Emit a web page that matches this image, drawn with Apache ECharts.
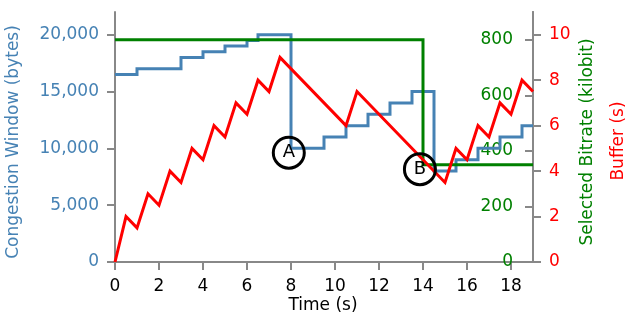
<!DOCTYPE html>
<html>
<head>
<meta charset="utf-8">
<script src="https://cdn.jsdelivr.net/npm/echarts@6/dist/echarts.min.js"></script>
<style>
html,body{margin:0;padding:0;background:#fff;}
#chart{width:629px;height:321px;}
</style>
</head>
<body>
<div id="chart"></div>
<script>
// Congestion window (bytes), step series: value holds from time until next time
var cwndTimes  = [0, 1, 3, 4, 5, 6, 6.5, 8, 9.5, 10.5, 11.5, 12.5, 13.5, 14.5, 15.5, 16.5, 17.5, 18.5, 19];
var cwndValues = [16500, 17000, 18000, 18500, 19000, 19500, 20000, 10000, 11000, 12000, 13000, 14000, 15000, 8000, 9000, 10000, 11000, 12000, 12000];

// Selected bitrate (kilobit), step series
var bitrateTimes  = [0, 14, 19];
var bitrateValues = [800, 350, 350];

// Buffer (s)
var bufferTimes  = [0, 0.5, 1, 1.5, 2, 2.5, 3, 3.5, 4, 4.5, 5, 5.5, 6, 6.5, 7, 7.5, 10.5, 11, 15, 15.5, 16, 16.5, 17, 17.5, 18, 18.5, 19];
var bufferValues = [0, 2, 1.5, 3, 2.5, 4, 3.5, 5, 4.5, 6, 5.5, 7, 6.5, 8, 7.5, 9, 6, 7.5, 3.5, 5, 4.5, 6, 5.5, 7, 6.5, 8, 7.5];

// Annotations (time s, congestion window bytes)
var annotationLabels = ['A', 'B'];
var annotationTimes  = [7.9, 13.86];
var annotationValues = [9620, 8170];

function pairs(xs, ys){ return xs.map(function(x,i){ return [x, ys[i]]; }); }

var FONT = 'DejaVu Sans';
var AXIS = '#888888';
var BLUE = '#4682b4', GREEN = '#008000', RED = '#ff0000';

var chart = echarts.init(document.getElementById('chart'), null, {renderer:'canvas'});
chart.setOption({
  animation: false,
  textStyle: {fontFamily: FONT},
  grid: {left: 115, right: 96, top: 12, bottom: 59, containLabel: false},
  xAxis: {
    type: 'value', min: 0, max: 19, interval: 2,
    splitLine: {show: false},
    axisLine: {show: true, onZero: false, lineStyle: {color: AXIS, width: 2}},
    axisTick: {show: true, length: 8, lineStyle: {color: AXIS, width: 2}},
    axisLabel: {color: '#000', fontSize: 17, fontFamily: FONT, margin: 16, showMaxLabel: false}
  },
  yAxis: [
    {
      type: 'value', position: 'left', min: 0, max: 22000, interval: 5000,
      splitLine: {show: false},
      axisLine: {show: true, lineStyle: {color: AXIS, width: 2}},
      axisTick: {show: true, length: 8, lineStyle: {color: AXIS, width: 2}},
      axisLabel: {color: BLUE, fontSize: 17, fontFamily: FONT, margin: 16, showMaxLabel: false,
        formatter: function(v){ return v.toLocaleString('en-US'); }}
    },
    {
      type: 'value', position: 'right', offset: 0, min: 0, max: 900, interval: 200,
      splitLine: {show: false},
      axisLine: {show: true, lineStyle: {color: AXIS, width: 2}},
      axisTick: {show: true, inside: true, length: 8, lineStyle: {color: AXIS, width: 2}},
      axisLabel: {color: GREEN, fontSize: 17, fontFamily: FONT, inside: true, margin: 20, showMaxLabel: false}
    },
    {
      type: 'value', position: 'right', offset: 0, min: 0, max: 11, interval: 2,
      splitLine: {show: false},
      axisLine: {show: true, lineStyle: {color: AXIS, width: 2}},
      axisTick: {show: true, length: 8, lineStyle: {color: AXIS, width: 2}},
      axisLabel: {color: RED, fontSize: 17, fontFamily: FONT, margin: 16, showMaxLabel: false}
    }
  ],
  series: [
    {
      type: 'line', name: 'cwnd', xAxisIndex: 0, yAxisIndex: 0, step: 'end', symbol: 'none',
      data: pairs(cwndTimes, cwndValues),
      lineStyle: {color: BLUE, width: 3, join: 'miter'}, z: 2
    },
    {
      type: 'line', name: 'bitrate', xAxisIndex: 0, yAxisIndex: 1, step: 'end', symbol: 'none',
      data: pairs(bitrateTimes, bitrateValues),
      lineStyle: {color: GREEN, width: 3, join: 'miter'}, z: 3
    },
    {
      type: 'line', name: 'buffer', xAxisIndex: 0, yAxisIndex: 2, symbol: 'none',
      data: pairs(bufferTimes, bufferValues),
      lineStyle: {color: RED, width: 3, join: 'miter'}, z: 4
    },
    {
      type: 'scatter', name: 'annotations', xAxisIndex: 0, yAxisIndex: 0,
      symbol: 'circle', symbolSize: 31,
      data: annotationLabels.map(function(l,i){ return {name: l, value: [annotationTimes[i], annotationValues[i]]}; }),
      itemStyle: {color: 'rgba(0,0,0,0)', borderColor: '#000', borderWidth: 3, opacity: 1},
      label: {show: true, position: 'inside', formatter: '{b}', color: '#000', fontSize: 18, fontFamily: FONT},
      emphasis: {disabled: true},
      z: 5
    }
  ],
  graphic: [
    {type: 'text', x: 14, y: 142, rotation: Math.PI/2,
      style: {text: 'Congestion Window (bytes)', fill: BLUE, font: '17px "DejaVu Sans"', textAlign: 'center', textVerticalAlign: 'middle'}},
    {type: 'text', x: 588, y: 142, rotation: Math.PI/2,
      style: {text: 'Selected Bitrate (kilobit)', fill: GREEN, font: '17px "DejaVu Sans"', textAlign: 'center', textVerticalAlign: 'middle'}},
    {type: 'text', x: 619, y: 141, rotation: Math.PI/2,
      style: {text: 'Buffer (s)', fill: RED, font: '17px "DejaVu Sans"', textAlign: 'center', textVerticalAlign: 'middle'}},
    {type: 'text', x: 323, y: 306,
      style: {text: 'Time (s)', fill: '#000', font: '17px "DejaVu Sans"', textAlign: 'center', textVerticalAlign: 'middle'}}
  ]
});
</script>
</body>
</html>
